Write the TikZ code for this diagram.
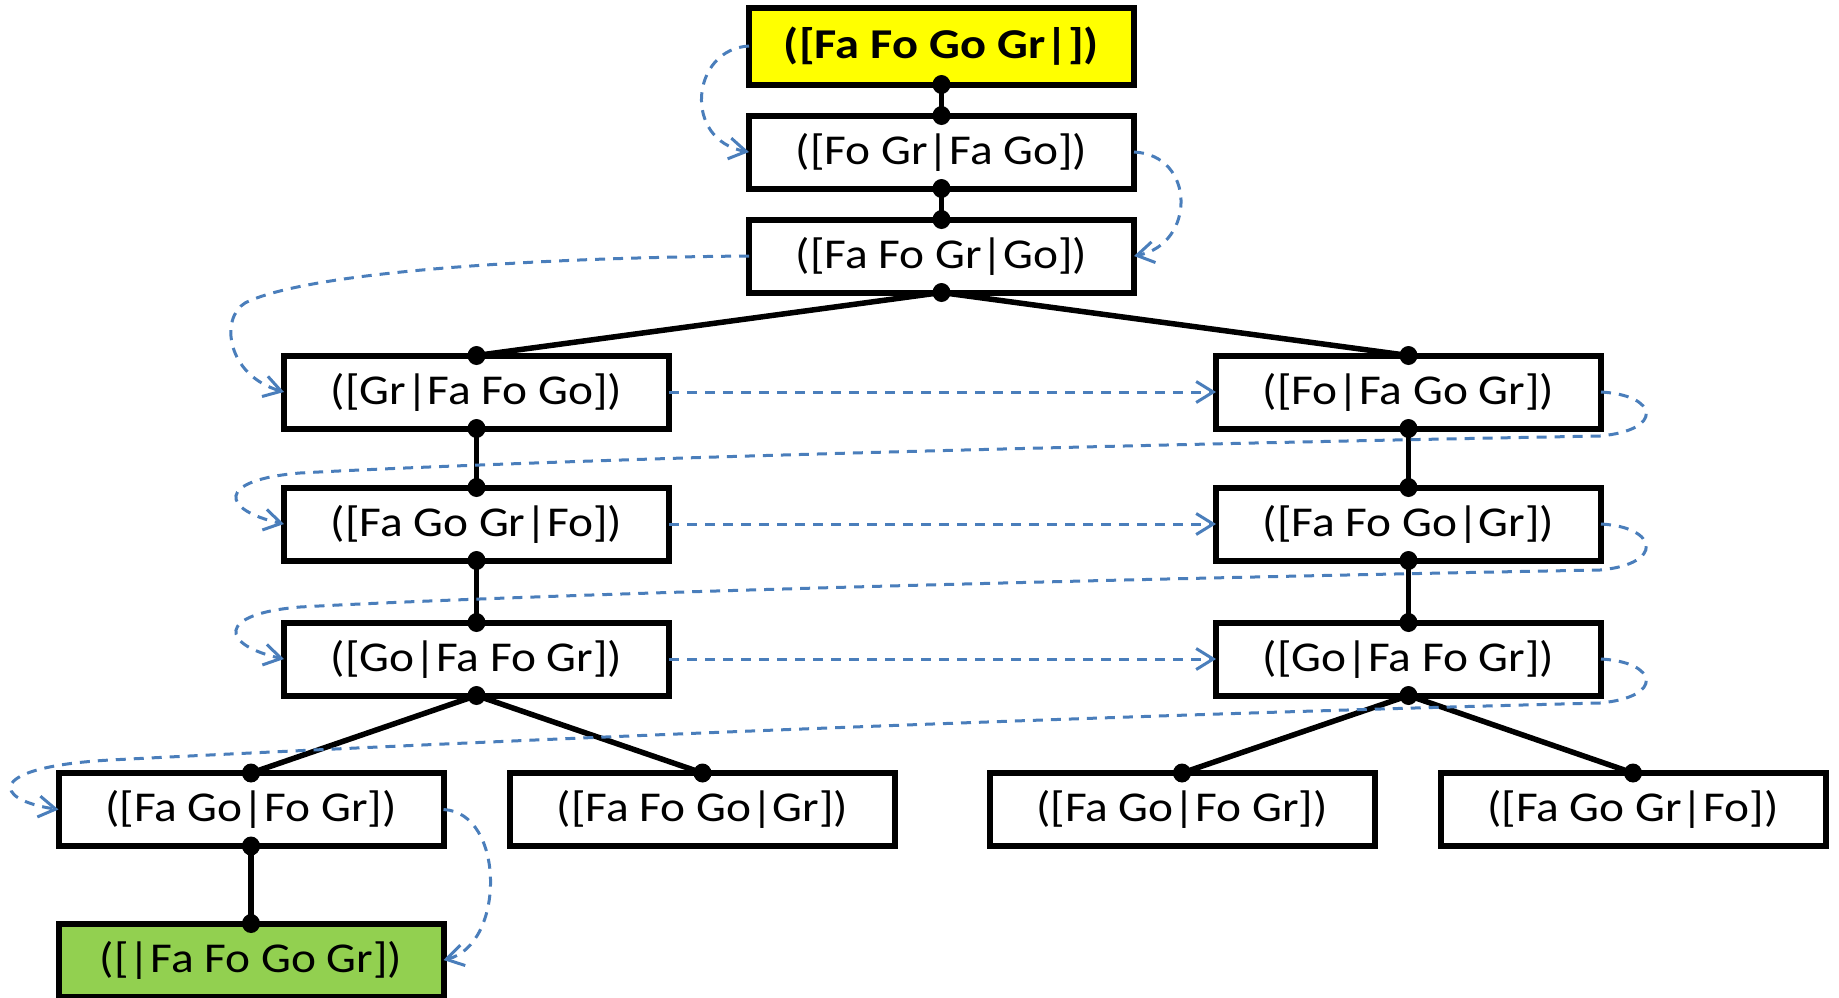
\documentclass[tikz,border=0pt]{standalone}
\usepackage{fontspec}
\usepackage{graphicx}
\setmainfont{Carlito}
\usetikzlibrary{arrows.meta}
\definecolor{flowblue}{HTML}{4A7EBB}
\definecolor{startyellow}{HTML}{FFFF00}
\definecolor{goalgreen}{HTML}{92D050}
% slightly widened label text
\newcommand{\wide}[1]{\scalebox{1.115}[1]{#1}}
\newcommand{\widebold}[1]{\scalebox{1.14}[1]{\bfseries #1}}
\begin{document}
\begin{tikzpicture}[x=1pt, y=-1pt,
  state/.style={draw, line width=6pt, fill=white, minimum width=385pt,
    minimum height=73pt, inner sep=0pt, outer sep=0pt,
    font=\fontsize{42.5}{48}\selectfont},
  link/.style={line width=5.5pt},
  flow/.style={draw=flowblue, line width=3pt, dash pattern=on 10pt off 8pt,
    -{Straight Barb[length=17pt, width=21pt]}}]
\useasboundingbox (0,0) rectangle (1839,997);

% states of the search
\node[state, fill=startyellow, minimum height=77pt] (s0) at (941.5,46) {\widebold{([Fa Fo Go Gr|])}};
\node[state] (s1) at (941.5,152) {\wide{([Fo Gr|Fa Go])}};
\node[state] (s2) at (941.5,256) {\wide{([Fa Fo Gr|Go])}};
\node[state] (l1) at (476.5,392) {\wide{([Gr|Fa Fo Go])}};
\node[state] (r1) at (1408.5,392) {\wide{([Fo|Fa Go Gr])}};
\node[state] (l2) at (476.5,524) {\wide{([Fa Go Gr|Fo])}};
\node[state] (r2) at (1408.5,524) {\wide{([Fa Fo Go|Gr])}};
\node[state] (l3) at (476.5,659) {\wide{([Go|Fa Fo Gr])}};
\node[state] (r3) at (1408.5,659) {\wide{([Go|Fa Fo Gr])}};
\node[state] (d1) at (251,809.5) {\wide{([Fa Go|Fo Gr])}};
\node[state] (d2) at (702.5,809.5) {\wide{([Fa Fo Go|Gr])}};
\node[state] (d3) at (1182,809.5) {\wide{([Fa Go|Fo Gr])}};
\node[state] (d4) at (1633,809.5) {\wide{([Fa Go Gr|Fo])}};
\node[state, fill=goalgreen] (g) at (251,960) {\wide{([|Fa Fo Go Gr])}};

% tree edges
\draw[link] (s0.south) -- (s1.north);
\draw[link] (s1.south) -- (s2.north);
\draw[link] (s2.south) -- (l1.north);
\draw[link] (s2.south) -- (r1.north);
\draw[link] (l1.south) -- (l2.north);
\draw[link] (l2.south) -- (l3.north);
\draw[link] (r1.south) -- (r2.north);
\draw[link] (r2.south) -- (r3.north);
\draw[link] (l3.south) -- (d1.north);
\draw[link] (l3.south) -- (d2.north);
\draw[link] (r3.south) -- (d3.north);
\draw[link] (r3.south) -- (d4.north);
\draw[link] (d1.south) -- (g.north);
\foreach \p in {s0.south, s1.north, s1.south, s2.north, s2.south,
  l1.north, l1.south, l2.north, l2.south, l3.north, l3.south,
  r1.north, r1.south, r2.north, r2.south, r3.north, r3.south,
  d1.north, d1.south, d2.north, d3.north, d4.north, g.north}
  \fill (\p) ellipse (9pt and 9.5pt);

% order of the breadth-first visit
\draw[flow] (s0.west) .. controls +(-58,3) and +(-67,-12) .. (s1.west);
\draw[flow] (s1.east) .. controls +(62,3) and +(62,-12) .. (s2.east);
\draw[flow] (s2.west) .. controls +(-248,2) and +(55,-28) .. (245,303)
  .. controls +(-25,15) and +(-58,-17) .. (l1.west);
\draw[flow] (l1.east) -- (r1.west);
\draw[flow] (r1.east) .. controls +(57,3) and +(65,-6) .. (1600,436)
  .. controls +(-600,11) and +(200,-11) .. (300,473)
  .. controls +(-85,7) and +(-63,-14) .. (l2.west);
\draw[flow] (l2.east) -- (r2.west);
\draw[flow] (r2.east) .. controls +(57,3) and +(65,-6) .. (1600,570)
  .. controls +(-600,11) and +(200,-11) .. (300,607)
  .. controls +(-85,7) and +(-63,-14) .. (l3.west);
\draw[flow] (l3.east) -- (r3.west);
\draw[flow] (r3.east) .. controls +(57,3) and +(65,-6) .. (1600,703)
  .. controls +(-600,15) and +(290,-15) .. (110,760)
  .. controls +(-125,7) and +(-67,-10) .. (d1.west);
\draw[flow] (d1.east) .. controls +(62,3) and +(62,-15) .. (g.east);
\end{tikzpicture}
\end{document}
